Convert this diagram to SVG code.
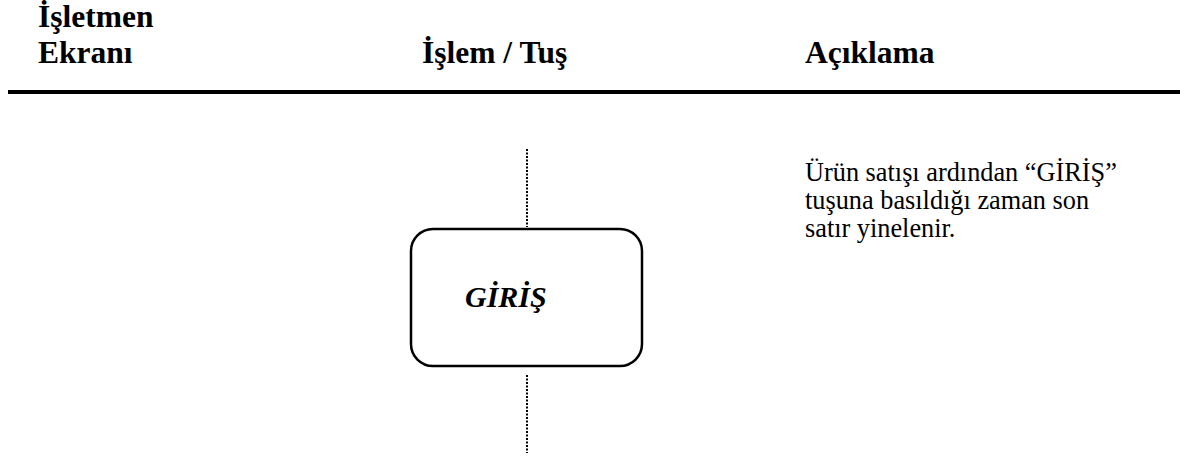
<svg xmlns="http://www.w3.org/2000/svg" width="1184" height="461" viewBox="0 0 1184 461">
<style>
.hdr{font-family:"Liberation Serif","Times New Roman",serif;font-weight:bold;font-size:31.5px;fill:#000}
.body{font-family:"Liberation Serif","Times New Roman",serif;font-size:26.3px;fill:#000}
.key{font-family:"Liberation Serif","Times New Roman",serif;font-weight:bold;font-style:italic;font-size:30px;fill:#000}
.dot{stroke:#000;stroke-width:2;stroke-dasharray:2 1.5;fill:none}
</style>
<rect width="1184" height="461" fill="#fff"/>
<g id="header">
<text class="hdr" x="38" y="27">İşletmen</text>
<text class="hdr" x="38" y="63">Ekranı</text>
<text class="hdr" x="422" y="63">İşlem / Tuş</text>
<text class="hdr" x="805" y="63">Açıklama</text>
<line x1="8" y1="92" x2="1180" y2="92" stroke="#000" stroke-width="4"/>
</g>
<g id="connectors">
<line class="dot" x1="527" y1="149" x2="527" y2="227"/>
<line class="dot" x1="527" y1="375" x2="527" y2="453"/>
</g>
<g id="node-giris">
<rect x="411" y="229" width="231" height="137" rx="22" ry="22" fill="#fff" stroke="#000" stroke-width="2.5"/>
<text class="key" x="465" y="307">GİRİŞ</text>
</g>
<g id="description">
<text class="body" x="805" y="181">Ürün satışı ardından “GİRİŞ”</text>
<text class="body" x="805" y="209">tuşuna basıldığı zaman son</text>
<text class="body" x="805" y="237">satır yinelenir.</text>
</g>
</svg>
